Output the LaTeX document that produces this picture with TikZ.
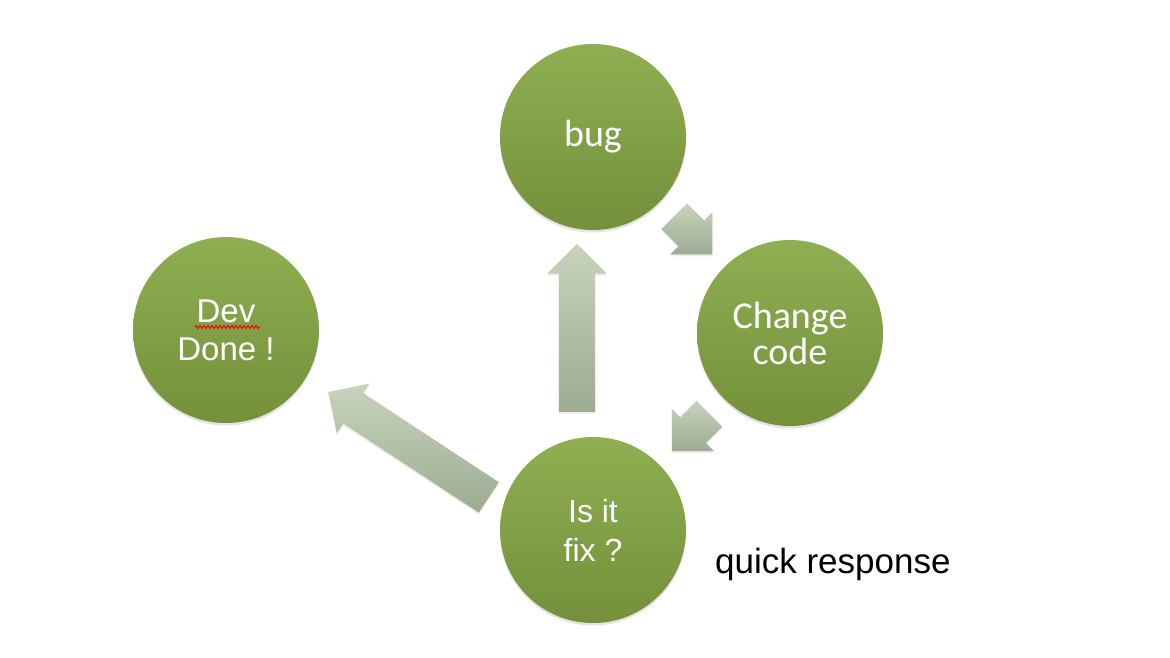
\documentclass[tikz,border=0pt]{standalone}
\usepackage{fontspec}
\setmainfont{Liberation Sans}
\newfontfamily\calibri{Carlito}
\usetikzlibrary{shapes.arrows}
\usetikzlibrary{calc}
\usetikzlibrary{shadows}
\usetikzlibrary{decorations.pathmorphing}

\definecolor{leaftop}{RGB}{143,175,82}
\definecolor{leafbottom}{RGB}{116,144,58}
\definecolor{sagetop}{RGB}{199,212,187}
\definecolor{sagebottom}{RGB}{157,171,147}

\begin{document}
\begin{tikzpicture}[every node/.style={inner sep=0pt},
	step circle/.style={circle, minimum size=186pt, top color=leaftop, bottom color=leafbottom,
		text=white, align=center,
		drop shadow={shadow xshift=0pt, shadow yshift=-2.5pt, opacity=0.18, fill=black!60}},
	flow arrow/.style={single arrow, single arrow tip angle=90, single arrow head extend=11.5pt,
		inner xsep=0pt, inner ysep=18pt, anchor=tail, top color=sagetop, bottom color=sagebottom,
		drop shadow={shadow xshift=0pt, shadow yshift=-2pt, opacity=0.12, fill=black!60}}
]%colours taken from the slide
\fill[white] (0pt,0pt) rectangle (1170pt,-658pt);
\node (bug) [step circle, font=\calibri\fontsize{38}{36}\selectfont] at (593pt, -137pt) {bug};
\node (change) [step circle, font=\calibri\fontsize{38}{36}\selectfont] at (790pt, -333pt) {Change\\code};
\node (fix) [step circle, font=\fontsize{32}{39}\selectfont] at (593pt, -530pt) {Is it\\fix ?};
\node (dev) [step circle, font=\fontsize{33}{38}\selectfont] at (226pt, -330pt) {Dev\\Done !};
\draw[red, line width=1pt, decorate, decoration={zigzag, segment length=4pt, amplitude=1.5pt}]
	($(dev)+(-31pt,3pt)$) -- ($(dev)+(34pt,3pt)$);
% block arrows between the steps, placed by their tails
\node (up) [flow arrow, minimum height=168pt, rotate=90] at ($(fix)+(-16pt,118pt)$) {};
\node (down1) [flow arrow, minimum height=54pt, rotate=-45] at ($(bug)+(81pt,-79pt)$) {};
\node (down2) [flow arrow, minimum height=53pt, rotate=-135] at ($(change)+(-80.5pt,-80.5pt)$) {};
\node (back) [flow arrow, minimum height=192pt, rotate=146.7] at ($(fix)+(-104pt,32.5pt)$) {};
\node (note) [anchor=base west, font=\fontsize{35}{40}\selectfont] at (715pt, -573pt) {quick response};
\end{tikzpicture}
\end{document}
